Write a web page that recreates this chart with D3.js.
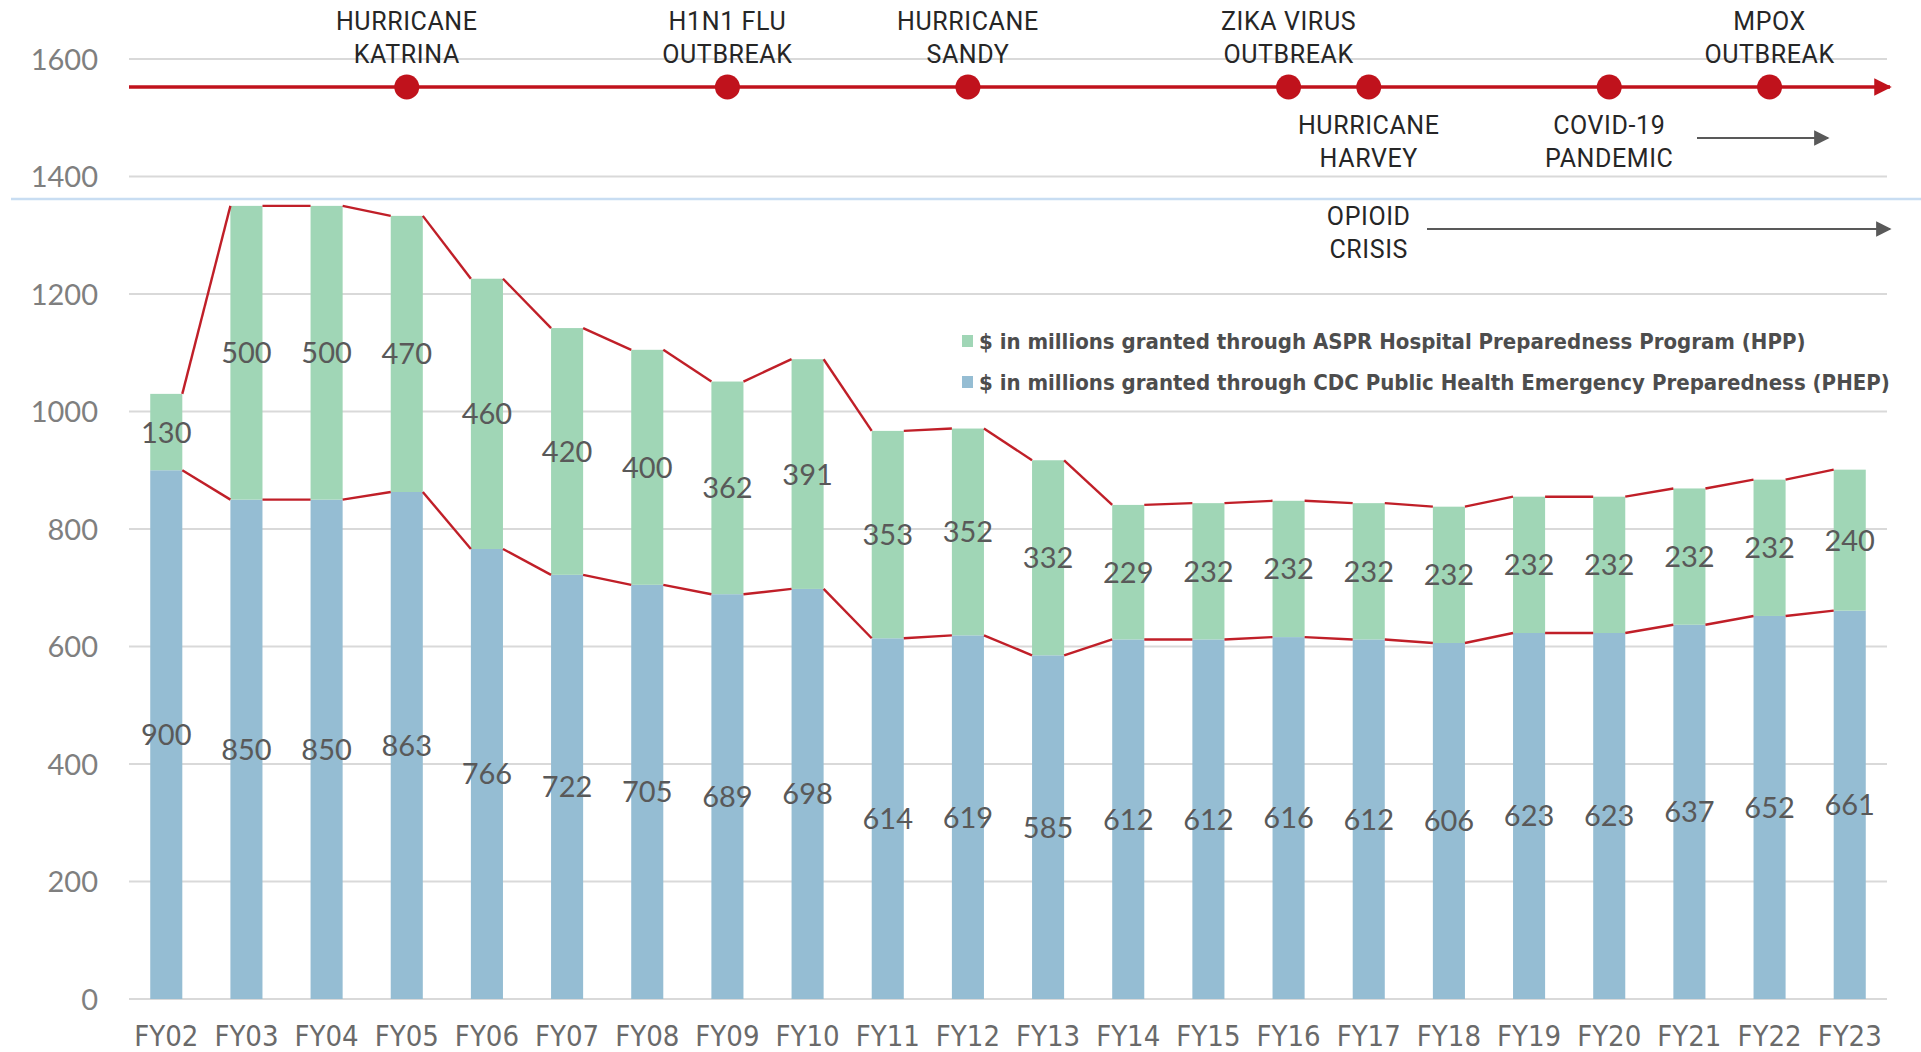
<!DOCTYPE html>
<html>
<head>
<meta charset="utf-8">
<script src="https://cdn.jsdelivr.net/npm/d3@7"></script>
<style>
  html, body { margin: 0; padding: 0; background: #fff; }
  svg { display: block; }
</style>
</head>
<body>
<script>
// ---- data ----
const categories = ["FY02","FY03","FY04","FY05","FY06","FY07","FY08","FY09","FY10","FY11","FY12","FY13","FY14","FY15","FY16","FY17","FY18","FY19","FY20","FY21","FY22","FY23"];
const phepValues = [900,850,850,863,766,722,705,689,698,614,619,585,612,612,616,612,606,623,623,637,652,661];
const hppValues  = [130,500,500,470,460,420,400,362,391,353,352,332,229,232,232,232,232,232,232,232,232,240];
const yTickValues = [0,200,400,600,800,1000,1200,1400,1600];
const seriesNames = [
  "$ in millions granted through ASPR Hospital Preparedness Program (HPP)",
  "$ in millions granted through CDC Public Health Emergency Preparedness (PHEP)"
];
const eventLines = [["HURRICANE","KATRINA"],["H1N1 FLU","OUTBREAK"],["HURRICANE","SANDY"],["ZIKA VIRUS","OUTBREAK"],["HURRICANE","HARVEY"],["COVID-19","PANDEMIC"],["MPOX","OUTBREAK"]];
const eventYears = ["FY05","FY09","FY12","FY16","FY17","FY20","FY22"];
const eventSides = ["above","above","above","above","below","below","above"];
const ongoingLabels = [["OPIOID","CRISIS"]];
const ongoingYears = ["FY17"];

// ---- layout ----
const W = 1921, H = 1052;
const svg = d3.select("body").append("svg").attr("width", W).attr("height", H);

const x = d3.scaleBand().domain(categories).range([129, 1887]).paddingInner(0.6).paddingOuter(0.265);
const y = d3.scaleLinear().domain([0, 1600]).range([999, 59]);
const bw = x.bandwidth();

const GREEN = "#a0d6b6", BLUE = "#95bdd3", RED = "#c0121c", LINE_RED = "#c01f28";

// gridlines
svg.append("g").selectAll("line").data(yTickValues).join("line")
  .attr("x1", 129).attr("x2", 1887)
  .attr("y1", d => y(d)).attr("y2", d => y(d))
  .attr("stroke", "#d9d9d9").attr("stroke-width", 2);

// y axis (labels only)
const yAxis = d3.axisLeft(y).tickValues(yTickValues).tickFormat(d3.format("d")).tickSize(0).tickPadding(0);
const yg = svg.append("g").attr("transform", "translate(98,0)").call(yAxis);
yg.select(".domain").remove();
yg.selectAll("text").attr("font-family", "Lato, 'Open Sans', sans-serif").attr("font-size", 29)
  .attr("fill", "#7f7f7f").attr("dy", "0.35em");

// light blue separator
svg.append("line").attr("x1", 11).attr("x2", W).attr("y1", 199).attr("y2", 199)
  .attr("stroke", "#c8ddf2").attr("stroke-width", 2.5);

// stacked bars
const rows = categories.map((c, i) => ({cat: c, phep: phepValues[i], hpp: hppValues[i]}));
const stack = d3.stack().keys(["phep", "hpp"]);
const stacked = stack(rows);
const colors = {phep: BLUE, hpp: GREEN};

svg.append("g").selectAll("g").data(stacked).join("g")
  .attr("fill", d => colors[d.key])
  .selectAll("rect").data(d => d).join("rect")
  .attr("x", d => x(d.data.cat)).attr("width", bw)
  .attr("y", d => y(d[1])).attr("height", d => y(d[0]) - y(d[1]));

// series lines (connect bar tops between adjacent bars)
stacked.forEach(s => {
  const segs = d3.pairs(s);
  svg.append("g").selectAll("line").data(segs).join("line")
    .attr("x1", d => x(d[0].data.cat) + bw).attr("y1", d => y(d[0][1]))
    .attr("x2", d => x(d[1].data.cat)).attr("y2", d => y(d[1][1]))
    .attr("stroke", LINE_RED).attr("stroke-width", 2.4);
});

// data labels
stacked.forEach(s => {
  svg.append("g").selectAll("text").data(s).join("text")
    .attr("x", d => x(d.data.cat) + bw / 2)
    .attr("y", d => y((d[0] + d[1]) / 2))
    .attr("dy", "0.36em")
    .attr("text-anchor", "middle")
    .attr("font-family", "Lato, 'Open Sans', sans-serif").attr("font-size", 29)
    .attr("fill", "#595959")
    .text(d => d[1] - d[0]);
});

// x axis labels
const xAxis = d3.axisBottom(x).tickSize(0).tickPadding(0);
const xg = svg.append("g").attr("transform", "translate(0,1036)").call(xAxis);
xg.select(".domain").remove();
xg.selectAll("text").attr("font-family", "'DejaVu Sans Condensed', 'DejaVu Sans', sans-serif")
  .style("font-stretch", "condensed").attr("font-size", 29).attr("fill", "#6a6a6a").attr("dy", "0.36em");

// timeline
const defs = svg.append("defs");
defs.append("marker").attr("id", "redArrow").attr("viewBox", "0 0 10 10").attr("refX", 9).attr("refY", 5)
  .attr("markerWidth", 6).attr("markerHeight", 5).attr("markerUnits", "strokeWidth").attr("orient", "auto")
  .append("path").attr("d", "M0,0 L10,5 L0,10 Z").attr("fill", RED);
defs.append("marker").attr("id", "grayArrow").attr("viewBox", "0 0 10 10").attr("refX", 9).attr("refY", 5)
  .attr("markerWidth", 9).attr("markerHeight", 7).attr("markerUnits", "strokeWidth").attr("orient", "auto")
  .append("path").attr("d", "M0,0 L10,5 L0,10 Z").attr("fill", "#595959");

const TL_Y = 87;
svg.append("line").attr("x1", 129).attr("x2", 1890).attr("y1", TL_Y).attr("y2", TL_Y)
  .attr("stroke", RED).attr("stroke-width", 3.5).attr("marker-end", "url(#redArrow)");

const events = eventYears.map((fy, i) => ({fy, lines: eventLines[i], side: eventSides[i]}));
svg.append("g").selectAll("circle").data(events).join("circle")
  .attr("cx", d => x(d.fy) + bw / 2).attr("cy", TL_Y).attr("r", 12.5).attr("fill", RED);

const evFont = "Roboto, 'Noto Sans', sans-serif";
events.forEach(ev => {
  const cx = x(ev.fy) + bw / 2;
  const ys = ev.side === "above" ? [21, 54] : [125, 158];
  ev.lines.forEach((t, j) => {
    svg.append("text").attr("x", cx).attr("y", ys[j]).attr("dy", "0.36em")
      .attr("text-anchor", "middle").attr("font-family", evFont).attr("font-size", 25)
      .attr("letter-spacing", 0.6).attr("fill", "#262626").text(t);
  });
});

// COVID ongoing arrow
svg.append("line").attr("x1", 1697).attr("x2", 1828).attr("y1", 138).attr("y2", 138)
  .attr("stroke", "#595959").attr("stroke-width", 2.2).attr("marker-end", "url(#grayArrow)");

// Opioid crisis
ongoingYears.forEach((fy, i) => {
  const cx = x(fy) + bw / 2;
  ongoingLabels[i].forEach((t, j) => {
    svg.append("text").attr("x", cx).attr("y", [216, 249][j]).attr("dy", "0.36em")
      .attr("text-anchor", "middle").attr("font-family", evFont).attr("font-size", 25)
      .attr("letter-spacing", 0.6).attr("fill", "#262626").text(t);
  });
});
svg.append("line").attr("x1", 1427).attr("x2", 1890).attr("y1", 229).attr("y2", 229)
  .attr("stroke", "#595959").attr("stroke-width", 2.2).attr("marker-end", "url(#grayArrow)");

// legend
const legendKeys = ["hpp", "phep"];
const lg = svg.append("g");
legendKeys.forEach((k, i) => {
  const ly = [341, 382][i];
  lg.append("rect").attr("x", 962).attr("y", ly - 6).attr("width", 11).attr("height", 12).attr("fill", colors[k]);
  const t = lg.append("text").attr("x", 979).attr("y", ly).attr("dy", "0.36em")
    .attr("font-family", "'Liberation Sans Narrow', 'DejaVu Sans Condensed', sans-serif").style("font-stretch", "condensed")
    .attr("font-weight", "bold").attr("font-size", 24).attr("fill", "#4d4d4d").text(seriesNames[i]);
  const target = [827, 911][i];
  const w = t.node().getComputedTextLength();
  if (w > 0) t.attr("font-size", Math.min(27, 24 * target / w));
});
</script>
</body>
</html>
